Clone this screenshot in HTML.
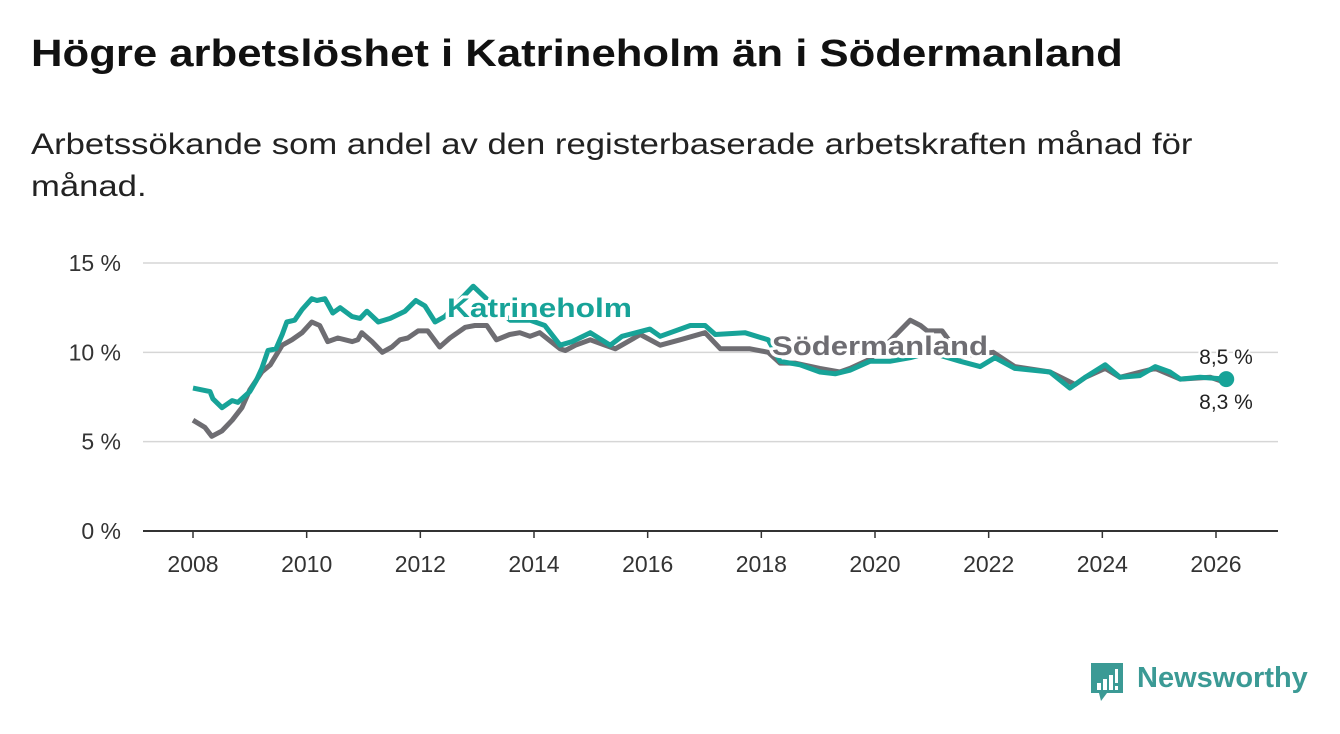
<!DOCTYPE html>
<html><head><meta charset="utf-8">
<style>
body{margin:0;width:1340px;height:734px;background:#fff;font-family:"Liberation Sans","DejaVu Sans",sans-serif;overflow:hidden;position:relative}
h1{position:absolute;left:31px;top:33px;margin:0;font-size:38px;font-weight:bold;color:#111;white-space:nowrap;transform:scaleX(1.149);transform-origin:left top}
.sub{position:absolute;left:31px;top:124px;font-size:30px;line-height:42px;color:#222;white-space:nowrap;transform:scaleX(1.155);transform-origin:left top}
svg{position:absolute;left:0;top:0}
</style></head>
<body>
<h1>Högre arbetslöshet i Katrineholm än i Södermanland</h1>
<div class="sub">Arbetssökande som andel av den registerbaserade arbetskraften månad för<br>månad.</div>
<svg id="chart" width="1340" height="734"></svg>
<div style="position:absolute;left:1089px;top:661px;">
<svg width="36" height="42" style="position:static"><path d="M2 2 H34 V32 H18 L12 40 L10 32 H2 Z" fill="#3b9a95"/><rect x="8" y="22" width="4" height="7" fill="#fff"/><rect x="14" y="18" width="4" height="11" fill="#fff"/><rect x="20" y="14" width="4" height="15" fill="#fff"/><rect x="26" y="8" width="3" height="14" fill="#fff"/><rect x="26" y="25" width="3" height="4" fill="#fff"/></svg>
<span style="position:absolute;left:48px;top:1px;font-size:29px;font-weight:bold;color:#3b9a95;white-space:nowrap">Newsworthy</span>
</div>
<script>
const xTicks=[2008,2010,2012,2014,2016,2018,2020,2022,2024,2026];
const yTicks=[0,5,10,15];
const yTickLabels=["0 %","5 %","10 %","15 %"];
const katYears=[2008.0,2008.3,2008.35,2008.51,2008.69,2008.79,2009.0,2009.11,2009.21,2009.32,2009.46,2009.57,2009.65,2009.79,2009.92,2010.09,2010.18,2010.32,2010.46,2010.59,2010.8,2010.94,2011.06,2011.26,2011.47,2011.73,2011.92,2012.08,2012.26,2012.43,2012.6,2012.93,2013.23,2013.58,2013.93,2014.19,2014.46,2014.67,2014.99,2015.34,2015.55,2016.04,2016.22,2016.75,2017.01,2017.19,2017.71,2018.12,2018.33,2018.68,2019.03,2019.3,2019.56,2019.91,2020.26,2020.62,2020.97,2021.5,2021.85,2022.11,2022.46,2023.08,2023.43,2023.7,2024.05,2024.31,2024.66,2024.93,2025.19,2025.37,2025.72,2026.18];
const katValues=[8.0,7.8,7.4,6.9,7.3,7.2,7.8,8.4,9.1,10.1,10.2,11.0,11.7,11.8,12.4,13.0,12.9,13.0,12.2,12.5,12.0,11.9,12.3,11.7,11.9,12.3,12.9,12.6,11.7,12.0,12.6,13.7,12.8,11.8,11.8,11.5,10.4,10.6,11.1,10.4,10.9,11.3,10.9,11.5,11.5,11.0,11.1,10.7,9.5,9.3,8.9,8.8,9.0,9.5,9.5,9.7,10.0,9.5,9.2,9.7,9.1,8.9,8.0,8.6,9.3,8.6,8.7,9.2,8.9,8.5,8.6,8.5];
const sodYears=[2008.0,2008.21,2008.33,2008.51,2008.69,2008.86,2009.0,2009.21,2009.36,2009.57,2009.74,2009.92,2010.09,2010.23,2010.37,2010.55,2010.8,2010.9,2010.97,2011.15,2011.33,2011.5,2011.64,2011.78,2011.96,2012.13,2012.34,2012.52,2012.79,2012.96,2013.17,2013.34,2013.57,2013.75,2013.93,2014.1,2014.46,2014.55,2014.73,2014.99,2015.25,2015.43,2015.87,2016.22,2016.57,2017.01,2017.28,2017.8,2018.12,2018.33,2018.59,2019.03,2019.38,2019.56,2019.9,2020.25,2020.62,2020.8,2020.92,2021.18,2021.5,2022.08,2022.46,2023.08,2023.52,2023.7,2024.05,2024.31,2024.93,2025.37,2025.9,2026.18];
const sodValues=[6.2,5.8,5.3,5.6,6.2,6.9,7.9,8.9,9.3,10.4,10.7,11.1,11.7,11.5,10.6,10.8,10.6,10.7,11.1,10.6,10.0,10.3,10.7,10.8,11.2,11.2,10.3,10.8,11.4,11.5,11.5,10.7,11.0,11.1,10.9,11.1,10.2,10.1,10.4,10.7,10.4,10.2,11.0,10.4,10.7,11.1,10.2,10.2,10.0,9.4,9.4,9.1,8.9,9.1,9.6,10.6,11.8,11.5,11.2,11.2,9.8,10.0,9.2,8.9,8.2,8.6,9.1,8.6,9.1,8.5,8.6,8.3];
const NS="http://www.w3.org/2000/svg";
const svg=document.getElementById('chart');
const x=y=>193+(y-2008)*(1216-193)/18;
const yS=v=>531-v*(531-263)/15;
function el(t,a,p){const e=document.createElementNS(NS,t);for(const k in a)e.setAttribute(k,a[k]);(p||svg).appendChild(e);return e;}
yTicks.forEach((t,i)=>{
 const g=el('line',{x1:143,x2:1278,y1:yS(t),y2:yS(t),stroke:t===0?'#333':'#d6d6d6','stroke-width':t===0?2:1.5});
 
 
 const tx=el('text',{x:121,y:yS(t)+8,'text-anchor':'end','font-size':23,fill:'#333'});
 tx.textContent=yTickLabels[i];
 
 
});
xTicks.forEach(t=>{
 const m=el('line',{x1:x(t),x2:x(t),y1:531,y2:538,stroke:'#333','stroke-width':1.5});
 
 
 const tx=el('text',{x:x(t),y:572,'text-anchor':'middle','font-size':23,fill:'#333'});
 tx.textContent=t;
 
 
});
function line(ys,vs,c,name){
 const d=ys.map((yr,i)=>(i?'L':'M')+x(yr).toFixed(1)+','+yS(vs[i]).toFixed(1)).join('');
 const p=el('path',{d:d,fill:'none',stroke:c,'stroke-width':5,'stroke-linejoin':'round'});
 
 
}
line(sodYears,sodValues,'#6e6d72','sodermanland-line');
line(katYears,katValues,'#17a398','katrineholm-line');
function label(tx,lx,ly,w,c,name){
 const t=el('text',{x:lx,y:ly,'font-size':27,'font-weight':'bold',fill:c,stroke:'#fff','stroke-width':6,'paint-order':'stroke',textLength:w,lengthAdjust:'spacingAndGlyphs'});
 t.textContent=tx;
 
 
}
label('Katrineholm',447,317,185,'#17a398','katrineholm-label');
label('Södermanland',772,355,216,'#6e6d72','sodermanland-label');
const lastK=katValues[katValues.length-1],lastS=sodValues[sodValues.length-1],lastY=katYears[katYears.length-1];
const dot=el('circle',{cx:x(lastY),cy:yS(lastK),r:8,fill:'#17a398'});


function endLab(v,yy,name){
 const t=el('text',{x:1226,y:yy,'text-anchor':'middle','font-size':21,fill:'#222',stroke:'#fff','stroke-width':4,'paint-order':'stroke'});
 t.textContent=v.toFixed(1).replace('.',',')+' %';
 
 
}
endLab(lastK,364,'katrineholm-end-label');
endLab(lastS,409,'sodermanland-end-label');
</script>
</body></html>
